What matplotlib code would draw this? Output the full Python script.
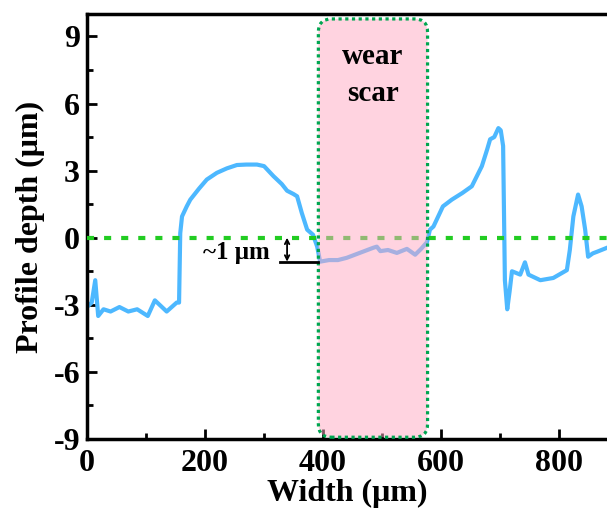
import matplotlib
matplotlib.use('Agg')
import matplotlib.pyplot as plt
from matplotlib.patches import FancyBboxPatch
from matplotlib.ticker import MultipleLocator

plt.rcParams['font.family'] = ['Liberation Serif', 'DejaVu Serif']
plt.rcParams['font.weight'] = 'bold'

# profile
width = [0, 8, 14, 19, 28, 40, 55, 70, 85, 103, 115, 135, 152, 156, 158, 161, 169, 175,
         190, 203, 220, 237, 254, 270, 288, 300, 316, 330, 339, 350, 356, 364, 373, 383,
         390, 395, 410, 425, 440, 455, 470, 485, 491, 497, 510, 525, 542, 556, 566, 576,
         581, 587, 603, 618, 636, 652, 669, 678, 683, 690, 697, 701, 705, 708, 712, 716,
         720, 734, 742, 748, 768, 790, 813, 818, 824, 832, 838, 844, 849, 857, 864, 881]
depth = [-3.1, -2.9, -1.9, -3.5, -3.2, -3.3, -3.1, -3.3, -3.2, -3.5, -2.8, -3.3, -2.9,
         -2.9, 0.2, 0.95, 1.4, 1.7, 2.2, 2.6, 2.9, 3.1, 3.25, 3.27, 3.27, 3.2, 2.75,
         2.4, 2.1, 1.95, 1.85, 1.1, 0.36, 0.13, -0.4, -1.07, -1.0, -1.0, -0.9, -0.75,
         -0.6, -0.45, -0.4, -0.6, -0.55, -0.68, -0.5, -0.76, -0.5, -0.2, 0.36, 0.5, 1.4,
         1.7, 2.0, 2.3, 3.2, 3.95, 4.4, 4.5, 4.9, 4.8, 4.1, -1.9, -3.2, -2.4, -1.5, -1.65,
         -1.1, -1.65, -1.9, -1.8, -1.45, -0.55, 0.95, 1.93, 1.4, 0.36, -0.85, -0.7, -0.63,
         -0.45]

scar_left, scar_right = 392, 577
scar_bottom, scar_top = -8.92, 9.78
step = -1.07

fig = plt.figure(figsize=(6.07, 5.14), dpi=100)
ax = fig.add_axes([0.1433, 0.1459, 0.8567, 0.8268])

ax.plot(width, depth, color='#4db8ff', lw=3, solid_joinstyle='round', zorder=2)
ax.axhline(0, color='#22cc22', lw=3, dashes=(1.7, 2.4), zorder=3)

box = FancyBboxPatch((scar_left, scar_bottom), scar_right - scar_left, scar_top - scar_bottom,
                     boxstyle='round,pad=0,rounding_size=22', mutation_aspect=0.027,
                     facecolor=(1, 0.66, 0.76, 0.5), edgecolor='#00a651',
                     lw=2.3, linestyle=(0, (1.0, 1.1)), zorder=4)
ax.add_patch(box)
mid = (scar_left + scar_right) / 2
ax.text(mid, 7.76, 'wear', ha='center', va='baseline', fontsize=21, fontweight='bold', zorder=5)
ax.text(mid, 6.10, 'scar', ha='center', va='baseline', fontsize=21, fontweight='bold', zorder=5)

ax.plot([327, scar_left], [step, step], color='black', lw=2, zorder=5)
ax.annotate('', xy=(339, 0), xytext=(339, step),
            arrowprops=dict(arrowstyle='<->', color='black', lw=1.3, shrinkA=0, shrinkB=0,
                            mutation_scale=8), zorder=5)
ax.text(253, -0.94, '~1 μm', ha='center', va='baseline', fontsize=18, fontweight='bold', zorder=5)

ax.set_xlim(0, 881)
ax.set_ylim(-9, 10)
ax.xaxis.set_major_locator(MultipleLocator(200))
ax.xaxis.set_minor_locator(MultipleLocator(100))
ax.yaxis.set_major_locator(MultipleLocator(3))
ax.yaxis.set_minor_locator(MultipleLocator(1.5))
ax.tick_params(which='both', direction='in', width=2, labelsize=23)
ax.tick_params(axis='y', pad=5)
ax.tick_params(axis='x', pad=7)
ax.tick_params(which='major', length=7)
ax.tick_params(which='minor', length=4)
ax.set_yticks([-9, -6, -3, 0, 3, 6, 9])
ax.set_yticklabels(['-9', '-6', '-3', '0', '3', '6', '9'])
for s in ['left', 'bottom', 'top']:
    ax.spines[s].set_linewidth(2.5)
ax.spines['right'].set_visible(False)

ax.set_xlabel('Width (μm)', fontsize=23, fontweight='bold', labelpad=1)
ax.set_ylabel('Profile depth (μm)', fontsize=23, fontweight='bold', labelpad=6)

fig.savefig('out.png', dpi=100)
